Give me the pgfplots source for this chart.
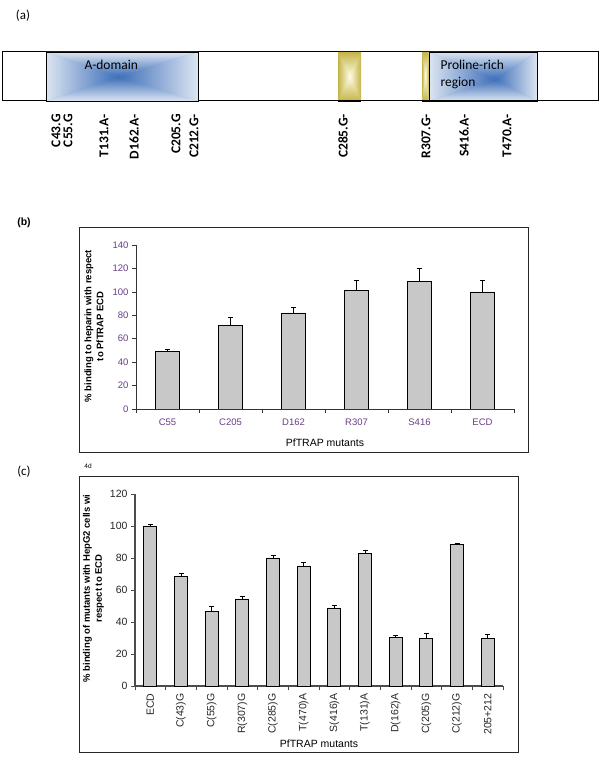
\documentclass[border=0pt]{standalone}
\usepackage{pgfplots}
\pgfplotsset{compat=1.18}
\usepackage{pgfplotstable}
\usepackage{fontspec}
\setmainfont{Liberation Sans}
\newfontfamily\calibri{Carlito}
\definecolor{barfill}{RGB}{200,200,200}
\definecolor{tickpurple}{RGB}{105,60,135}
\definecolor{bluedark}{RGB}{60,110,185}
\definecolor{bluelight}{RGB}{220,229,241}
\definecolor{olive}{RGB}{196,180,72}
\definecolor{olivelight}{RGB}{255,252,228}
\newcommand{\gradbox}[8]{%
  \fill[#7!50!#8] (#1,#2) rectangle (#3,#4);
  \shade[top color=#7, bottom color=#8] (#1,#4) -- (#3,#4) -- (#5,#6) -- cycle;
  \shade[bottom color=#7, top color=#8] (#1,#2) -- (#3,#2) -- (#5,#6) -- cycle;
  \shade[left color=#7, right color=#8] (#1,#2) -- (#1,#4) -- (#5,#6) -- cycle;
  \shade[right color=#7, left color=#8] (#3,#2) -- (#3,#4) -- (#5,#6) -- cycle;
}
\pgfplotstableread{
x y e
0 49 2
1 71 7
2 82 4.5
3 101 9
4 109 11
5 100 10
}\datab
\pgfplotstableread{
x y e
0 100 1
1 68.5 2
2 46.5 3.5
3 54 2
4 80 1.5
5 75 2
6 48.8 1.6
7 83 2
8 30.5 1.2
9 30 3
10 88.3 1
11 30 2.5
}\datac
\begin{document}
\begin{tikzpicture}[x=1pt,y=1pt]
\useasboundingbox (0,0) rectangle (600,782);
% ---------- panel (a) ----------
\node[font=\calibri\fontsize{13}{15}\selectfont] at (23,766) {(a)};
\draw[line width=1pt] (2,681) rectangle (598,730);
\gradbox{46}{681}{198}{730}{118}{705.5}{bluelight}{bluedark}
\draw[line width=0.8pt] (46,681) rectangle (198,730);
\gradbox{338}{681}{361}{730}{349.5}{705.5}{olive}{olivelight}
\gradbox{422}{681}{428.5}{730}{425.2}{705.5}{olive}{olivelight}
\gradbox{429}{681}{537}{730}{495}{703}{bluelight}{bluedark}
\draw[line width=0.8pt] (429,681) rectangle (537,730);
\draw[line width=2pt] (338,681) -- (361,681);
\draw[line width=2pt] (422,681) -- (537,681);
\node[font=\calibri\fontsize{13.5}{15}\selectfont, anchor=west] at (81,717) {A-domain};
\node[font=\calibri\fontsize{13.5}{15}\selectfont, anchor=west] at (437,717) {Proline-rich};
\node[font=\calibri\fontsize{13.5}{15}\selectfont, anchor=west] at (437,699) {region};
\foreach \xx/\lab in {56/C43.G, 68/C55.G, 104/T131.A-, 134/D162.A-, 176/C205.G, 194/C212.G-, 343/C285.G-, 426/R307.G-, 464/S416.A-, 507/T470.A-}{
  \node[font=\calibri\bfseries\fontsize{13.5}{15}\selectfont, rotate=90, anchor=east, inner sep=0pt] at (\xx,668) {\lab};
}
% ---------- panel (b) ----------
\node[font=\bfseries\fontsize{10.5}{12}\selectfont] at (24,559) {(b)};
\draw[line width=0.8pt, black!85] (79,330) rectangle (528,555);
\begin{axis}[
  at={(136pt,373pt)}, anchor=south west, scale only axis,
  width=378pt, height=164pt,
  xmin=-0.5, xmax=5.5, ymin=0, ymax=140,
  axis x line*=bottom, axis y line*=left,
  axis line style={-, line width=0.6pt, black!80},
  xtick={-0.5,0.5,1.5,2.5,3.5,4.5,5.5}, x tick label as interval,
  xticklabels={C55,C205,D162,R307,S416,ECD},
  ytick={0,20,...,140},
  tick align=outside, major tick length=4pt,
  tick style={black!80, line width=0.6pt},
  ticklabel style={font=\fontsize{9.5}{11}\selectfont, text=tickpurple},
  xticklabel style={yshift=-2pt},
  /pgf/number format/assume math mode=true,
  xlabel={PfTRAP mutants},
  xlabel style={at={(rel axis cs:0.5,-0.207)}, anchor=center, font=\fontsize{10.5}{12}\selectfont},
  ylabel={\% binding to heparin with respect\\to PfTRAP ECD},
  ylabel style={at={(rel axis cs:-0.111,0.505)}, anchor=center, align=center, font=\bfseries\fontsize{9.5}{12}\selectfont},
]
\addplot[ybar, bar width=24pt, fill=barfill, draw=black, line width=0.7pt,
  error bars/.cd, y dir=plus, y explicit,
  error bar style={line width=0.8pt, black},
  error mark options={rotate=90, mark size=2.7pt, line width=0.8pt, black}]
  table[x=x, y=y, y error=e] {\datab};
\end{axis}
% ---------- panel (c) ----------
\node[font=\calibri\fontsize{13}{15}\selectfont] at (24,310) {(c)};
\node[font=\fontsize{6.5}{8}\selectfont] at (88,316) {4d};
\draw[line width=0.8pt, black!85] (79,30) rectangle (518,306);
\begin{axis}[
  at={(135pt,96pt)}, anchor=south west, scale only axis,
  width=368pt, height=192pt,
  xmin=-0.5, xmax=11.5, ymin=0, ymax=120,
  axis x line*=bottom, axis y line*=left,
  axis line style={-, line width=1.1pt, black!70},
  xtick={-0.5,0.5,...,11.5}, x tick label as interval,
  xticklabels={ECD,C(43)G,C(55)G,R(307)G,C(285)G,T(470)A,S(416)A,T(131)A,D(162)A,C(205)G,C(212)G,205+212},
  ytick={0,20,...,120},
  tick align=outside, major tick length=4pt,
  tick style={black!70, line width=0.8pt},
  ticklabel style={font=\fontsize{10.5}{12}\selectfont, text=black!85},
  xticklabel style={rotate=90, anchor=east},
  /pgf/number format/assume math mode=true,
  xlabel={PfTRAP mutants},
  xlabel style={at={(rel axis cs:0.5,-0.302)}, anchor=center, font=\fontsize{10.5}{12}\selectfont},
  ylabel={\% binding of mutants with HepG2 cells wi\\respect to ECD},
  ylabel style={at={(rel axis cs:-0.113,0.508)}, anchor=center, align=center, font=\bfseries\fontsize{9.5}{12}\selectfont},
]
\addplot[ybar, bar width=13pt, fill=barfill, draw=black, line width=0.7pt,
  error bars/.cd, y dir=plus, y explicit,
  error bar style={line width=0.8pt, black},
  error mark options={rotate=90, mark size=2.5pt, line width=0.8pt, black}]
  table[x=x, y=y, y error=e] {\datac};
\end{axis}
\end{tikzpicture}
\end{document}
